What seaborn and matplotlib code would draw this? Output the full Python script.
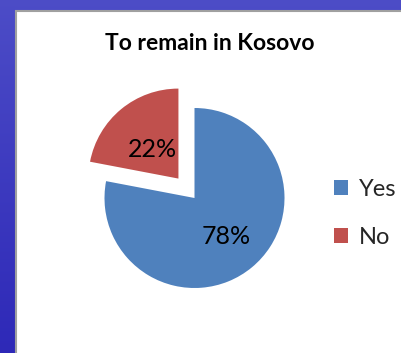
import numpy as np
import matplotlib
matplotlib.use("Agg")
import matplotlib.pyplot as plt
from matplotlib.patches import Rectangle
import seaborn as sns

# Survey answers
categories = ["Yes", "No"]
shares = [78, 22]
title = "To remain in Kosovo"

sns.set_theme(style="white")
plt.rcParams["font.family"] = ["Lato", "DejaVu Sans"]

colors = ["#4F81BD", "#C0504D"]

W, H = 402, 353
fig = plt.figure(figsize=(W / 100, H / 100), dpi=100)

# Slide background: blue gradient with a white chart panel
bg = fig.add_axes([0, 0, 1, 1])
bg.set_xlim(0, W)
bg.set_ylim(H, 0)
bg.axis("off")
grad = np.linspace(0, 1, 256)[:, None] * np.ones((1, 8))
bg.imshow(np.dstack([0.30 - 0.12 * grad, 0.30 - 0.14 * grad, 0.78 - 0.06 * grad]),
          extent=[0, W, H, 0], aspect="auto", zorder=0)
bg.add_patch(Rectangle((16.5, 10.5), W, H, facecolor="white",
                       edgecolor="#a0a0a0", linewidth=1.5, zorder=1))

# Pie chart
r_px = 90
cx, cy = 194.5, 198
half = 1.2 * r_px
ax = fig.add_axes([(cx - half) / W, (H - cy - half) / H, 2 * half / W, 2 * half / H])
wedges, texts, autotexts = ax.pie(
    shares,
    colors=colors,
    startangle=90,
    counterclock=False,
    explode=[0, 0.28],
    autopct="%d%%",
    pctdistance=0.55,
    textprops=dict(fontsize=18, color="black"),
    wedgeprops=dict(linewidth=0),
)
ax.set_xlim(-1.2, 1.2)
ax.set_ylim(-1.2, 1.2)
ax.set_aspect("auto")
ax.axis("off")

# Pull the smaller label a bit closer to its wedge tip
ang = np.deg2rad(90 + 360 * shares[1] / 200)
ex, ey = 0.28 * np.cos(ang), 0.28 * np.sin(ang)
autotexts[1].set_position((ex + 0.46 * np.cos(ang), ey + 0.42 * np.sin(ang)))

fig.text(0.5 * (W + 17) / W, 1 - 43 / H, title, ha="center", va="center",
         fontsize=16.5, fontweight="bold", color="black")

fig.legend(wedges, categories, loc="upper left",
           bbox_to_anchor=(322 / W, 1 - 167 / H), frameon=False,
           fontsize=17, handlelength=0.6, handleheight=0.6,
           handletextpad=0.45, labelspacing=1.15, borderpad=0)

fig.savefig("out.png", dpi=100)
